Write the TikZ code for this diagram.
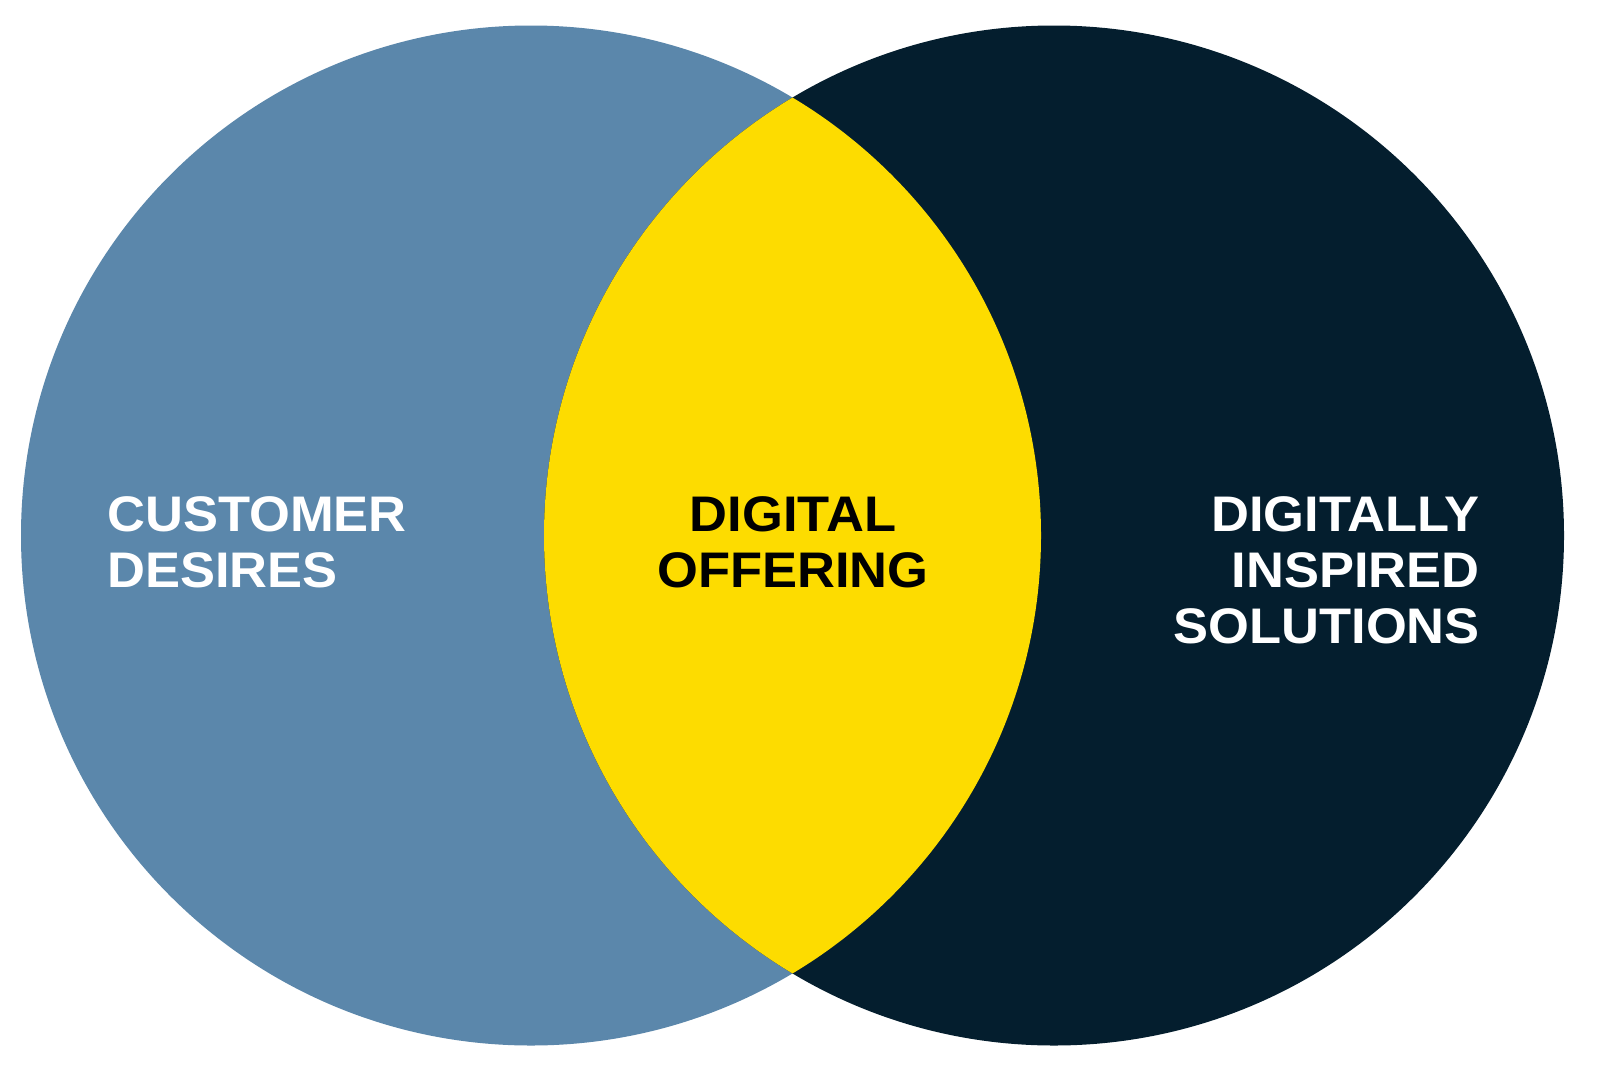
\documentclass[tikz,border=0pt]{standalone}
\usepackage{fontspec}
\setmainfont{Liberation Sans}[FakeStretch=1.05]
\definecolor{cblue}{HTML}{5B87AB}
\definecolor{cnavy}{HTML}{041E2E}
\definecolor{cyellow}{HTML}{FDDC00}
\begin{document}
\begin{tikzpicture}[x=1pt,y=-1pt,
  lbl/.style={inner sep=0pt,font=\fontsize{50}{56}\selectfont\bfseries}]
\useasboundingbox (0,0) rectangle (1600,1087);
\fill[white] (0,0) rectangle (1600,1087);
\coordinate (L) at (531,535.5);
\coordinate (R) at (1054,535.5);
\fill[cblue] (L) circle[radius=510pt];
\fill[cnavy] (R) circle[radius=510pt];
\begin{scope}
\clip (L) circle[radius=510pt];
\fill[cyellow] (R) circle[radius=510pt];
\end{scope}
\node[lbl,white,align=left,anchor=base west] (cust) at (107,587) {CUSTOMER\\DESIRES};
\node[lbl,black,align=center,anchor=base] (dig) at (793,587) {DIGITAL\\OFFERING};
\node[lbl,white,align=right,anchor=base east] (sol) at (1480,643) {DIGITALLY\\INSPIRED\\SOLUTIONS};
\end{tikzpicture}
\end{document}
